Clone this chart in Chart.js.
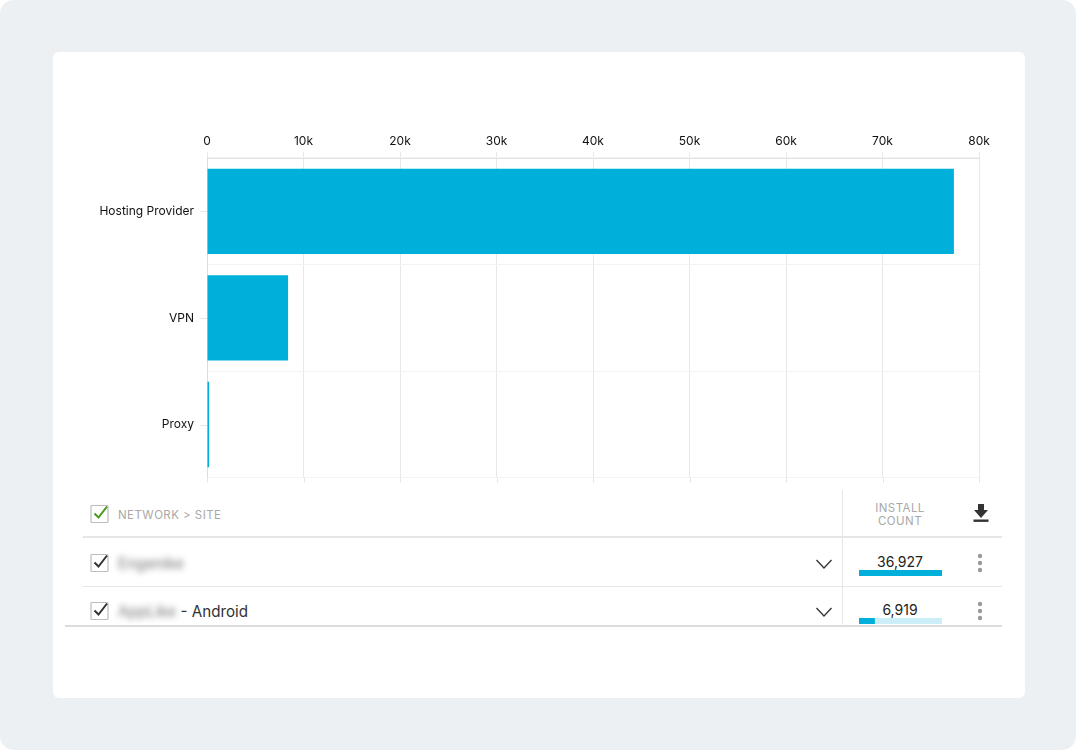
<!DOCTYPE html>
<html>
<head>
<meta charset="utf-8">
<title>Install count</title>
<script src="https://cdn.jsdelivr.net/npm/chart.js@4"></script>
<style>
html, body { margin: 0; padding: 0; background: #fff; }
body { width: 1076px; height: 750px; overflow: hidden; position: relative; font-family: Inter, "Noto Sans", sans-serif; }
.abs { position: absolute; }
#bg { left: 0; top: 0; width: 1076px; height: 750px; background: #edf0f3; border-radius: 14px; }
#card { left: 53px; top: 52px; width: 972px; height: 646px; background: #fff; border-radius: 6px; }
#graph { left: 80px; top: 120px; }
.line { background: #e6e6e6; }
.head { color: #a9a9a9; font-size: 11.5px; letter-spacing: 0.45px; line-height: 13px; }
.count { width: 100px; left: 850px; text-align: center; font-size: 14px; color: #222; }
.name { left: 118px; font-size: 15.2px; color: #333; white-space: nowrap; }
.blur { filter: blur(3px); color: #777; }
</style>
</head>
<body>
<div class="abs" id="bg"></div>
<div class="abs" id="card"></div>
<canvas class="abs" id="graph" width="920" height="378"></canvas>

<div class="abs head" style="left:118px;top:509px">NETWORK &gt; SITE</div>
<div class="abs head" style="left:850px;width:100px;top:502px;text-align:center">INSTALL<br>COUNT</div>
<svg class="abs" style="left:971px;top:503px" width="20" height="20" viewBox="0 0 20 20">
  <path d="M7 1h6v6h4l-7 8-7-8h4z" fill="#333"/><rect x="2.5" y="16.5" width="15" height="2.4" fill="#333"/>
</svg>

<div class="abs line" style="left:83px;top:536px;width:919px;height:2px"></div>
<div class="abs line" style="left:83px;top:586px;width:919px;height:1px"></div>
<div class="abs line" style="left:65px;top:625px;width:937px;height:2px;background:#dcdcdc"></div>
<div class="abs line" style="left:842px;top:490px;width:1px;height:136px"></div>

<div id="rows"></div>

<script>
// valeurs
const categories = ['Hosting Provider', 'VPN', 'Proxy'];
const installs = [77400, 8400, 220];
const tickMax = 80000;
const tickStep = 10000;

const siteNames = ['Engenike', 'AppLike'];
const siteSuffix = ['', ' - Android'];
const siteCounts = [36927, 6919];

const bleu = '#00b0db';
const bleuClair = '#cceef8';

// petits traits : au milieu des categories et sous l'axe du bas
const traits = {
    id: 'traits',
    afterDraw(chart) {
        const c = chart.ctx;
        const xs = chart.scales.x;
        const ys = chart.scales.y;
        c.save();
        c.strokeStyle = '#e6e6e6';
        c.lineWidth = 1;
        c.beginPath();
        categories.forEach((nom, i) => {
            const p = Math.round(ys.getPixelForValue(i)) + 0.5;
            c.moveTo(xs.left - 7, p);
            c.lineTo(xs.left, p);
        });
        for (let v = 0; v <= tickMax; v += tickStep) {
            const p = Math.round(xs.getPixelForValue(v)) + 0.5;
            c.moveTo(p, ys.bottom);
            c.lineTo(p, ys.bottom + 5);
        }
        c.stroke();
        c.restore();
    }
};

new Chart(document.getElementById('graph').getContext('2d'), {
    type: 'bar',
    data: {
        labels: categories,
        datasets: [{
            data: installs,
            backgroundColor: bleu,
            barPercentage: 0.8,
            categoryPercentage: 1
        }]
    },
    options: {
        indexAxis: 'y',
        responsive: false,
        animation: false,
        layout: { autoPadding: false, padding: { right: 21, bottom: 12 } },
        plugins: { legend: { display: false }, tooltip: { enabled: false } },
        scales: {
            x: {
                position: 'top',
                min: 0,
                max: tickMax,
                afterFit(axis) { axis.height = 38; },
                grid: { color: '#e8e8e8', tickLength: 6, drawTicks: true },
                border: { color: '#e2e2e2' },
                ticks: {
                    stepSize: tickStep,
                    maxRotation: 0,
                    color: '#111',
                    padding: 3,
                    font: { family: 'Inter', size: 12 },
                    callback: v => v === 0 ? '0' : (v / 1000) + 'k'
                }
            },
            y: {
                afterFit(axis) { axis.width = 127; },
                grid: { color: '#f3f3f3', offset: true, tickLength: 0 },
                border: { color: '#dcdcdc' },
                ticks: {
                    color: '#111',
                    padding: 13,
                    font: { family: 'Inter', size: 12 }
                }
            }
        }
    },
    plugins: [traits]
});

function caseCochee(y, couleur) {
    return `<svg class="abs" style="left:90px;top:${y}px" width="20" height="20" viewBox="0 0 20 20">
        <rect x="1" y="1.5" width="17" height="17" rx="1" fill="#fff" stroke="#bdbdbd" stroke-width="1.2"/>
        <path d="M4.5 9.5l4 4 8.5-11" fill="none" stroke="${couleur}" stroke-width="2"/></svg>`;
}

function miniBarre(canvas, valeur) {
    new Chart(canvas.getContext('2d'), {
        type: 'bar',
        data: {
            labels: [''],
            datasets: [
                { data: [valeur], backgroundColor: bleu, barPercentage: 1, categoryPercentage: 1 },
                { data: [siteCounts[0] - valeur], backgroundColor: bleuClair, barPercentage: 1, categoryPercentage: 1 }
            ]
        },
        options: {
            indexAxis: 'y',
            responsive: false,
            animation: false,
            plugins: { legend: { display: false }, tooltip: { enabled: false } },
            scales: {
                x: { display: false, stacked: true, min: 0, max: siteCounts[0] },
                y: { display: false, stacked: true }
            }
        }
    });
}

const rows = document.getElementById('rows');
rows.innerHTML = caseCochee(504, '#4a9a1c');
const rowTop = [553, 601];

siteNames.forEach((nom, i) => {
    const y = rowTop[i];
    let html = caseCochee(y, '#333');
    html += `<div class="abs name" style="top:${y + 1}px"><span class="blur">${nom}</span>${siteSuffix[i]}</div>`;
    html += `<svg class="abs" style="left:815px;top:${y + 5}px" width="18" height="12" viewBox="0 0 18 12"><path d="M1.5 2l7.5 8 7.5-8" fill="none" stroke="#333" stroke-width="1.3"/></svg>`;
    html += `<div class="abs count" style="top:${y}px">${siteCounts[i].toLocaleString('en-US')}</div>`;
    html += `<canvas class="abs" id="mini${i}" style="left:859px;top:${y + 17}px" width="83" height="6"></canvas>`;
    html += `<svg class="abs" style="left:976px;top:${y}px" width="8" height="22" viewBox="0 0 8 22"><g fill="#9a9a9a"><circle cx="4" cy="3" r="2.2"/><circle cx="4" cy="10" r="2.2"/><circle cx="4" cy="17" r="2.2"/></g></svg>`;
    rows.insertAdjacentHTML('beforeend', html);
});

siteCounts.forEach((valeur, i) => miniBarre(document.getElementById('mini' + i), valeur));
</script>
</body>
</html>
